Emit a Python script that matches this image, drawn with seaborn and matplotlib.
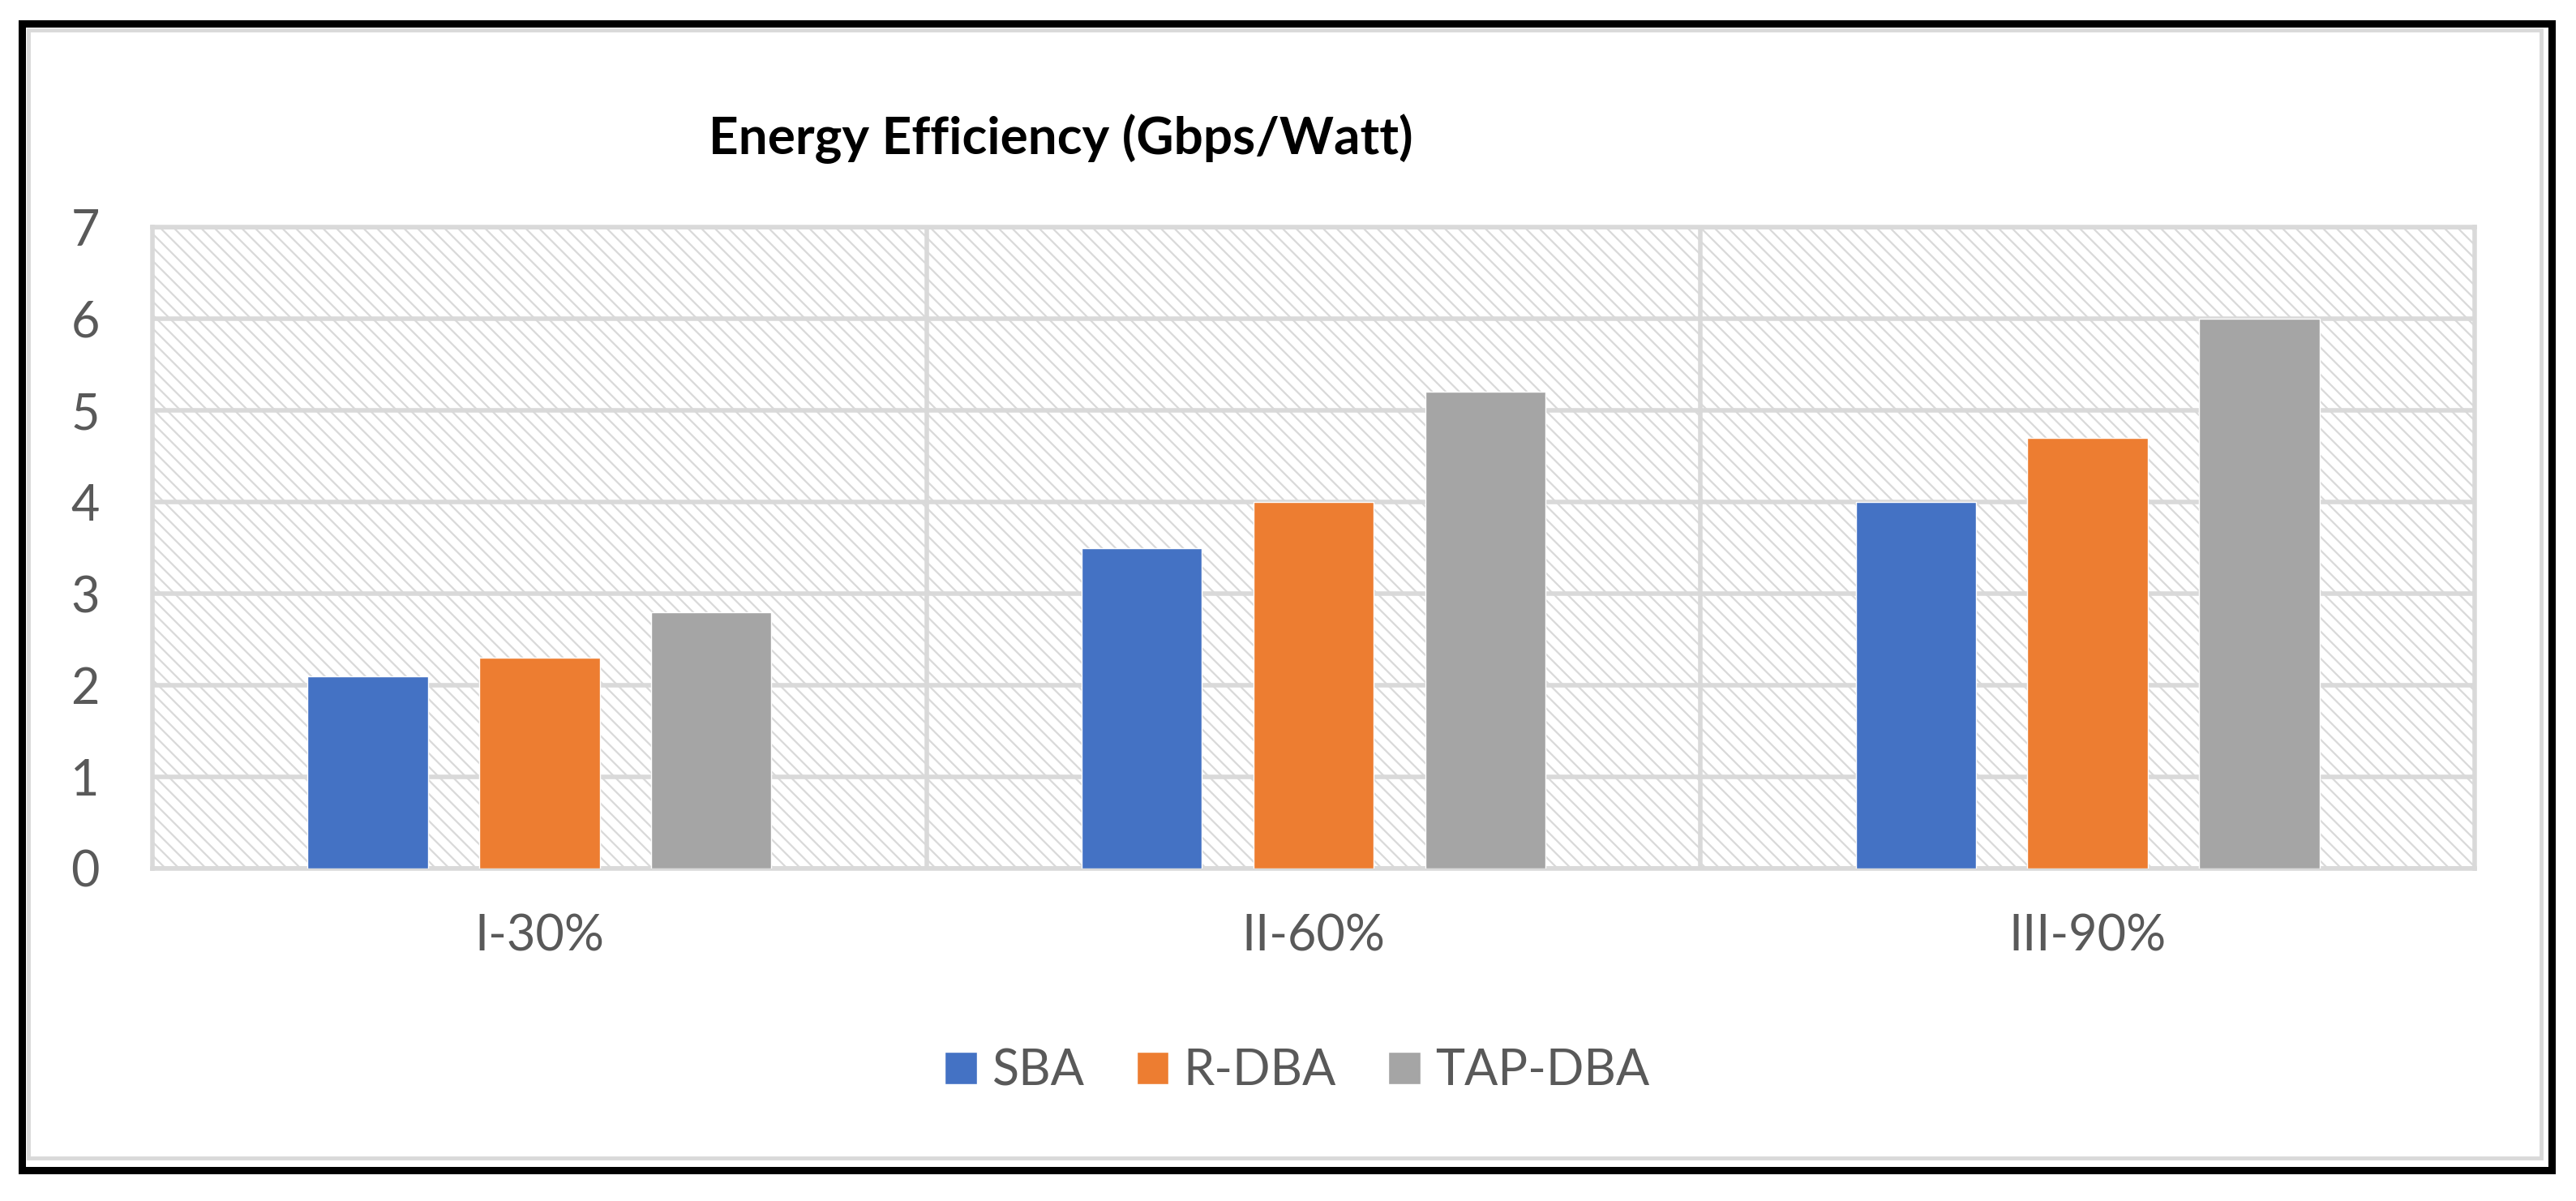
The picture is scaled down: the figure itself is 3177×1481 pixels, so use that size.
import numpy as np
import pandas as pd
from matplotlib import pyplot as plt
from matplotlib.patches import Rectangle
import seaborn as sns

loads = ['I-30%', 'II-60%', 'III-90%']
schemes = ['SBA', 'R-DBA', 'TAP-DBA']
sba = [2.1, 3.5, 4.0]
r_dba = [2.3, 4.0, 4.7]
tap_dba = [2.8, 5.2, 6.0]
colors = ['#4472C4', '#ED7D31', '#A5A5A5']

df = pd.DataFrame({
    'Load': loads * 3,
    'Scheme': [s for s in schemes for _ in loads],
    'Efficiency': sba + r_dba + tap_dba,
})

sns.set_style('white')
plt.rcParams['font.family'] = ['Lato', 'DejaVu Sans']
plt.rcParams['hatch.color'] = '#D9D9D9'
plt.rcParams['hatch.linewidth'] = 1.6

W, H = 3177, 1481
fig = plt.figure(figsize=(W / 100, H / 100), dpi=100)
ax = fig.add_axes([188 / W, 1 - 1071 / H, (3052 - 188) / W, (1071 - 280) / H])

# hatched plot background
ax.add_patch(Rectangle((0, 0), 1, 1, transform=ax.transAxes, facecolor='white',
                       edgecolor='#D9D9D9', hatch='\\\\', lw=0, zorder=0.1))

sns.barplot(data=df, x='Load', y='Efficiency', hue='Scheme', palette=colors,
            width=0.666, gap=0.3, saturation=1, ax=ax, zorder=3, errorbar=None)

ax.set_ylim(0, 7)
ax.set_xlim(-0.5, 2.5)
ax.set_yticks(range(8))
ax.set_xticks([0.5, 1.5], minor=True)
ax.set_axisbelow(True)
ax.grid(axis='y', which='major', color='#D9D9D9', lw=4)
ax.grid(axis='x', which='minor', color='#D9D9D9', lw=4)
ax.grid(axis='x', which='major', visible=False)
for sp in ax.spines.values():
    sp.set_color('#D9D9D9')
    sp.set_linewidth(4)
ax.tick_params(axis='both', which='both', length=0, labelsize=44, labelcolor='#595959')
ax.tick_params(axis='y', pad=47)
ax.tick_params(axis='x', pad=40)
ax.set_xlabel('')
ax.set_ylabel('')

ax.get_legend().remove()
handles = [Rectangle((0, 0), 1, 1, facecolor=c) for c in colors]
fig.legend(handles, schemes, loc='center', bbox_to_anchor=(1600 / W, 1 - 1321 / H),
           ncol=3, frameon=False, fontsize=44, labelcolor='#595959',
           handlelength=0.65, handleheight=0.65, handletextpad=0.3, columnspacing=1.05)

fig.text(1308 / W, 1 - 190 / H, 'Energy Efficiency (Gbps/Watt)', ha='center', va='baseline',
         fontsize=46, fontweight='bold', color='black')

# outer frame: black border with light gray inner border
fig.patches.append(Rectangle((27 / W, 1 - 1443 / H), (3147 - 27) / W, (1443 - 29) / H,
                             transform=fig.transFigure, fill=False, edgecolor='black', lw=6.5))
fig.patches.append(Rectangle((35 / W, 1 - 1428 / H), (3134 - 35) / W, (1428 - 37) / H,
                             transform=fig.transFigure, fill=False, edgecolor='#D9D9D9', lw=3.5))

plt.savefig('out.png', dpi=100)
